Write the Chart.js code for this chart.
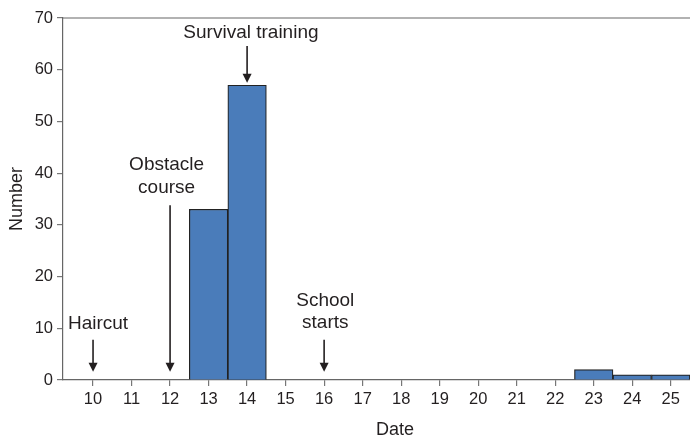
<!DOCTYPE html>
<html><head><meta charset="utf-8">
<script src="https://cdn.jsdelivr.net/npm/chart.js@4.4.1/dist/chart.umd.min.js"></script>
<style>html,body{margin:0;padding:0;background:#fff}#wrap{width:690px;height:440px}</style>
</head><body><div id="wrap"><canvas id="c" width="690" height="440"></canvas></div>
<script>
const dates = [10,11,12,13,14,15,16,17,18,19,20,21,22,23,24,25];
const counts = [0,0,0,33,57,0,0,0,0,0,0,0,0,2,1,1];
const yTicks = [0,10,20,30,40,50,60,70];
// annotations: text lines, the date each arrow points at, text centre (date units), text line y values, arrow from/to (y values)
const noteTexts = [["Haircut"],["Obstacle","course"],["Survival training"],["School","starts"]];
const noteDates = [10,12,14,16];
const noteTextX = [10.13,11.91,14.1,16.03];
const noteTextY = [[10.8],[41.6,37.1],[67.1],[15.3,11.0]];
const noteArrow = [[7.8,1.6],[33.8,1.6],[64.6,57.5],[7.8,1.6]];

const FONT = "'Liberation Sans', Arial, Helvetica, sans-serif";
const INK = '#231f20';

const notesPlugin = {
  id:'notes',
  afterDraw(chart){
    const ctx = chart.ctx, xs = chart.scales.x, ys = chart.scales.y, ca = chart.chartArea;
    ctx.save();
    ctx.strokeStyle = '#666'; ctx.lineWidth = 1.2;
    ctx.beginPath(); ctx.moveTo(ca.left, ca.top); ctx.lineTo(ca.right, ca.top); ctx.stroke();
    ctx.fillStyle = INK; ctx.strokeStyle = INK;
    ctx.font = '19px ' + FONT; ctx.textAlign = 'center'; ctx.textBaseline = 'middle';
    noteTexts.forEach((lines,i)=>{
      const x = xs.getPixelForValue(noteDates[i]);
      const tx = xs.getPixelForValue(noteTextX[i]);
      lines.forEach((t,j)=> ctx.fillText(t, tx, ys.getPixelForValue(noteTextY[i][j])));
      const y0 = ys.getPixelForValue(noteArrow[i][0]), y1 = ys.getPixelForValue(noteArrow[i][1]);
      ctx.lineWidth = 1.6;
      ctx.beginPath(); ctx.moveTo(x, y0); ctx.lineTo(x, y1 - 7); ctx.stroke();
      ctx.beginPath(); ctx.moveTo(x - 4.5, y1 - 9); ctx.lineTo(x + 4.5, y1 - 9); ctx.lineTo(x, y1); ctx.closePath(); ctx.fill();
    });
    ctx.font = '18px ' + FONT;
    ctx.fillText('Date', 395, 430);
    ctx.restore();
  }
};

new Chart(document.getElementById('c'), {
  type:'bar',
  data:{ datasets:[{
    data: dates.map((d,i)=>({x:d, y:counts[i]})),
    backgroundColor:'#4a7cba', borderColor:'#222', borderWidth:1.2,
    barPercentage:1, categoryPercentage:1
  }]},
  plugins:[notesPlugin],
  options:{
    responsive:false, animation:false, devicePixelRatio:1,
    layout:{padding:{top:18,left:0,right:0,bottom:0}},
    plugins:{legend:{display:false}, tooltip:{enabled:false}},
    scales:{
      x:{ type:'linear', min:9.22, max:25.5, offset:false,
        afterBuildTicks(s){ s.ticks = dates.map(v=>({value:v})); },
        afterFit(s){ s.height = 60; },
        grid:{offset:false, drawOnChartArea:false, drawTicks:true, tickLength:6, color:'#777', lineWidth:1.2},
        border:{display:true, color:'#666', width:1.2},
        ticks:{color:INK, font:{family:FONT, size:16.5}, padding:4, autoSkip:false, maxRotation:0}
      },
      y:{ min:0, max:70,
        afterBuildTicks(s){ s.ticks = yTicks.map(v=>({value:v})); },
        afterFit(s){ s.width = 63; },
        grid:{drawOnChartArea:false, drawTicks:true, tickLength:6, color:'#777', lineWidth:1.2},
        border:{display:true, color:'#666', width:1.2},
        ticks:{color:INK, font:{family:FONT, size:16.5}, padding:4},
        title:{display:true, text:'Number', color:INK, font:{family:FONT, size:18}, padding:{top:6,bottom:0}}
      }
    }
  }
});
</script></body></html>
